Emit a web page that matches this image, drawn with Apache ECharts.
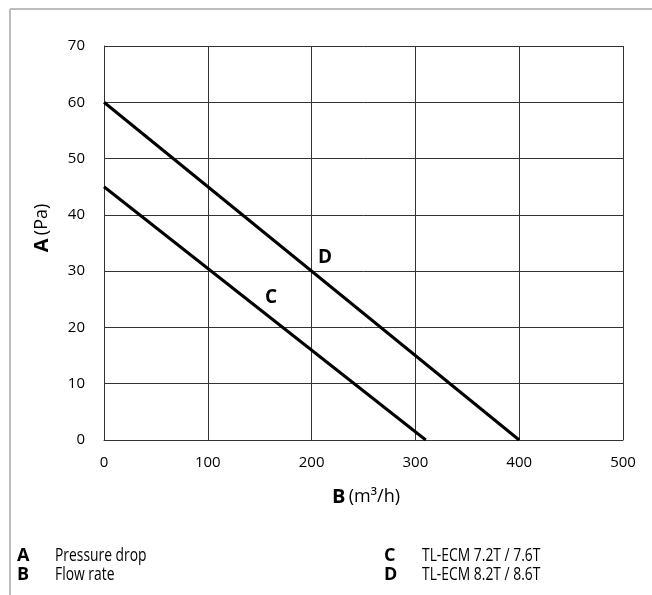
<!DOCTYPE html>
<html><head><meta charset="utf-8">
<script src="https://cdn.jsdelivr.net/npm/echarts@6/dist/echarts.min.js"></script>
<style>html,body{margin:0;padding:0;background:#fff}#c{width:652px;height:595px}</style>
</head><body><div id="c"></div>
<script>
const xTicks = [0, 100, 200, 300, 400, 500];
const yTicks = [0, 10, 20, 30, 40, 50, 60, 70];
const seriesC = [[0, 45], [310, 0]];
const seriesD = [[0, 60], [400, 0]];
const labelC = { name: 'C', coord: [161, 25.3] };
const labelD = { name: 'D', coord: [213, 32.4] };
const legendItems = [
  ['A', 'Pressure drop'], ['B', 'Flow rate'],
  ['C', 'TL-ECM 7.2T / 7.6T'], ['D', 'TL-ECM 8.2T / 8.6T']
];

const chart = echarts.init(document.getElementById('c'));
const tickFont = { color: '#000', fontFamily: 'Open Sans', fontSize: 15 };
function markLabel(item) {
  return {
    symbol: 'circle', symbolSize: 0,
    data: [{ name: item.name, coord: item.coord }],
    label: { show: true, position: 'inside', formatter: item.name, fontFamily: 'Open Sans', fontWeight: 'bold', fontSize: 19, color: '#000' }
  };
}
const legendGraphics = [];
legendItems.forEach((it, i) => {
  const col = Math.floor(i / 2), row = i % 2;
  const x0 = col === 0 ? 17 : 384;
  const y0 = row === 0 ? 556 : 575;
  legendGraphics.push({ type: 'text', x: x0, y: y0, style: { text: it[0], font: 'bold 18px "Open Sans"', fill: '#000', verticalAlign: 'middle' } });
  legendGraphics.push({ type: 'text', x: x0 + 38, y: y0, scaleX: 0.77, style: { text: it[1], font: '18px "Open Sans"', fill: '#000', verticalAlign: 'middle' } });
});

chart.setOption({
  animation: false,
  grid: { left: 104, top: 46, right: 29, bottom: 155, containLabel: false },
  xAxis: {
    type: 'value', min: 0, max: 500, interval: 100,
    axisLine: { show: true, lineStyle: { color: '#333', width: 1 } },
    axisTick: { show: false },
    splitLine: { show: true, lineStyle: { color: '#333', width: 1 } },
    axisLabel: Object.assign({ margin: 15 }, tickFont)
  },
  yAxis: {
    type: 'value', min: 0, max: 70, interval: 10,
    axisLine: { show: true, lineStyle: { color: '#333', width: 1 } },
    axisTick: { show: false },
    splitLine: { show: true, lineStyle: { color: '#333', width: 1 } },
    axisLabel: Object.assign({ margin: 19 }, tickFont)
  },
  series: [
    { type: 'line', data: seriesC, symbol: 'none', lineStyle: { color: '#000', width: 3 }, markPoint: markLabel(labelC) },
    { type: 'line', data: seriesD, symbol: 'none', lineStyle: { color: '#000', width: 3 }, markPoint: markLabel(labelD) }
  ],
  graphic: [
    { type: 'line', shape: { x1: 10, y1: 9, x2: 652, y2: 9 }, style: { stroke: '#bdbdbd', lineWidth: 2 } },
    { type: 'line', shape: { x1: 10, y1: 9, x2: 10, y2: 595 }, style: { stroke: '#bdbdbd', lineWidth: 2 } },
    { type: 'text', x: 42, y: 228, rotation: Math.PI / 2, style: {
        text: '{b|A} {n|(Pa)}', align: 'center', verticalAlign: 'middle',
        rich: { b: { font: 'bold 20px "Open Sans"', fill: '#000' }, n: { font: '18px "Open Sans"', fill: '#000' } } } },
    { type: 'text', x: 366, y: 497, style: {
        text: '{b|B} {n|(m³/h)}', align: 'center', verticalAlign: 'middle',
        rich: { b: { font: 'bold 20px "Open Sans"', fill: '#000' }, n: { font: '18px "Open Sans"', fill: '#000' } } } }
  ].concat(legendGraphics)
});
</script></body></html>
